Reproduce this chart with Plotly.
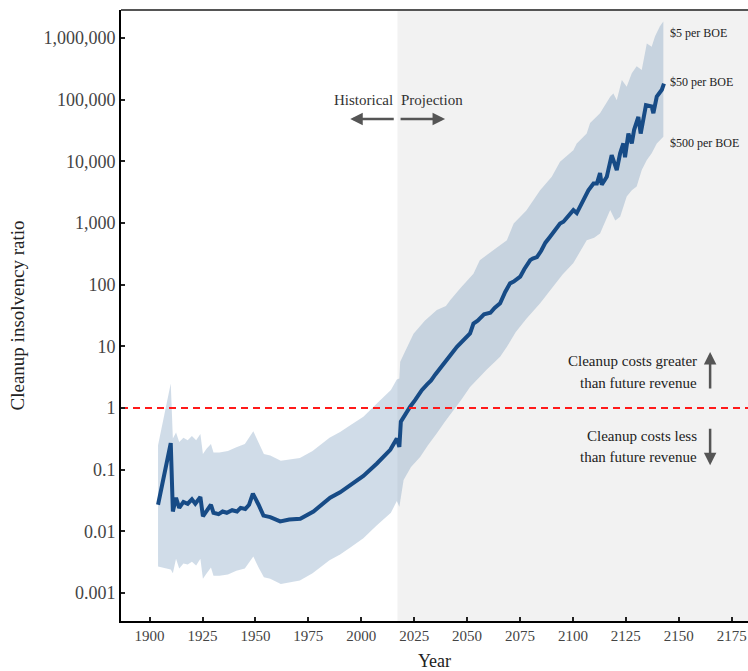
import plotly.graph_objects as go

# ---------------- data ----------------
hist_years = [1904, 1910, 1911, 1912.5, 1914, 1916, 1918, 1920, 1921.6, 1924, 1925.2, 1927, 1929,
              1930.2, 1932.6, 1934.5, 1936.5, 1939, 1941.3, 1943, 1945.2, 1947, 1948.8, 1951.5,
              1953.8, 1957, 1961.7, 1966, 1971.2, 1977.4, 1981, 1985.3, 1990, 1994.8, 2001,
              2007.4, 2013.7, 2016.8, 2018.0]
hist_ratio = [0.027, 0.27, 0.021, 0.035, 0.024, 0.030, 0.028, 0.033, 0.028, 0.036, 0.0175, 0.022, 0.027,
              0.020, 0.019, 0.021, 0.020, 0.022, 0.021, 0.024, 0.023, 0.027, 0.041, 0.027,
              0.018, 0.017, 0.0145, 0.0155, 0.016, 0.021, 0.026, 0.035, 0.043, 0.056, 0.079,
              0.126, 0.21, 0.32, 0.234]

proj_years = [2018.7, 2020, 2023.1, 2025.5, 2028.6, 2031, 2033, 2035, 2037.3, 2040, 2042, 2045.2,
              2047, 2049, 2051.4, 2053, 2055, 2058, 2061, 2063, 2065.6, 2068, 2070.3, 2072,
              2075.1, 2077, 2079.8, 2081, 2083, 2085, 2087, 2089.2, 2091, 2093.9, 2095.5, 2097,
              2100.2, 2101.8, 2104.9, 2107.3, 2109.7, 2111.3, 2112.8, 2113.6, 2116, 2118.3,
              2120.7, 2122.3, 2123.8, 2124.6, 2126.2, 2127.8, 2128.9, 2130.9, 2132, 2134.5,
              2137.2, 2138, 2139.6, 2142, 2143]
proj_ratio = [0.60, 0.72, 1.05, 1.35, 1.95, 2.4, 2.8, 3.5, 4.4, 5.5, 7.1, 9.8,
              11.2, 13.2, 16.2, 23.4, 26, 33, 35, 42, 50, 76, 105, 112,
              135, 178, 250, 265, 280, 355, 480, 600, 710, 980, 1050, 1200,
              1620, 1450, 2340, 3390, 4370, 4370, 6460, 4170, 5620, 12600,
              7240, 13500, 19500, 11700, 28200, 19500, 32400, 52500, 28200, 81300,
              77600, 60300, 112000, 145000, 182000]

upper_years = [1904, 1910, 1911, 1912.5, 1914, 1916, 1918, 1920, 1922, 1924, 1925.2, 1927, 1929,
               1930.2, 1933, 1937, 1941, 1945, 1949, 1951.5, 1954, 1957, 1962, 1971, 1977,
               1985, 1990, 1995, 2001, 2007, 2014, 2016.8, 2018.0, 2018.4, 2021, 2024.7, 2030,
               2035.7, 2040, 2042, 2047, 2053, 2056, 2062, 2068.8, 2072, 2078, 2084.5, 2090,
               2093.9, 2100.2, 2101.8, 2106.5, 2108.1, 2112.8, 2117.6, 2119.1, 2120.7, 2123.1,
               2125.4, 2127.8, 2130.1, 2132.5, 2134.9, 2137.2, 2138.8, 2141.1, 2142.7]
upper_ratio = [0.25, 2.5, 0.32, 0.40, 0.28, 0.33, 0.30, 0.35, 0.30, 0.38, 0.18, 0.22, 0.26,
               0.19, 0.19, 0.20, 0.23, 0.26, 0.42, 0.27, 0.18, 0.17, 0.14, 0.155, 0.20,
               0.33, 0.41, 0.53, 0.72, 1.15, 1.95, 2.9, 3.0, 5.6, 8.5, 16, 26,
               39, 45, 56, 89, 150, 250, 355, 525, 980, 1600, 3400, 5600,
               9800, 15100, 19500, 28200, 41700, 60300, 112000, 126000, 98000, 209000,
               162000, 269000, 347000, 302000, 813000, 724000, 1070000, 1550000, 1860000]

lower_years = [1904, 1910, 1911, 1912.5, 1914, 1916, 1918, 1920, 1922, 1924, 1925.2, 1927, 1929,
               1930.2, 1933, 1937, 1941, 1945, 1949, 1951.5, 1954, 1957, 1962, 1971, 1977,
               1985, 1990, 1995, 2001, 2007, 2014, 2016.8, 2018.0, 2018.4, 2020, 2023.5,
               2027.8, 2031.5, 2035.7, 2039.5, 2043.5, 2047.5, 2051.4, 2055, 2059.3, 2065.6,
               2068.8, 2073, 2078, 2084.5, 2090, 2095, 2100.2, 2104, 2106.5, 2110, 2112.8,
               2117.6, 2120, 2122.3, 2125.4, 2127.8, 2130.1, 2132.5, 2134.9, 2137.2, 2139.6, 2142.7]
lower_ratio = [0.0027, 0.0024, 0.0021, 0.0036, 0.0025, 0.0030, 0.0029, 0.0032, 0.0028, 0.0036, 0.0017,
               0.0021, 0.0026, 0.0019, 0.0019, 0.0020, 0.0023, 0.0025, 0.0039, 0.0026, 0.0018,
               0.0017, 0.0014, 0.0016, 0.0021, 0.0034, 0.0042, 0.0055, 0.0077, 0.0122, 0.020,
               0.031, 0.025, 0.028, 0.068, 0.11, 0.16, 0.25, 0.39, 0.60, 0.93, 1.4, 2.2, 3.0,
               4.2, 6.8, 9.8, 17, 28, 50, 89, 145, 224, 380, 525, 575, 676, 1620, 1100, 1260,
               2690, 3390, 3890, 7240, 10500, 13500, 19500, 25100]

y_tickvals = [0.001, 0.01, 0.1, 1, 10, 100, 1000, 10000, 100000, 1000000]
y_ticktext = ["0.001", "0.01", "0.1", "1", "10", "100", "1,000", "10,000", "100,000", "1,000,000"]
x_tickvals = [1900, 1925, 1950, 1975, 2000, 2025, 2050, 2075, 2100, 2125, 2150, 2175]

projection_start = 2017.1
x_range = [1886.5, 2182.7]

FONT = "Liberation Serif, Times New Roman, serif"
LINE_BLUE = "#174b86"
BAND = "rgba(100,140,180,0.30)"
ARROW = "#555555"

fig = go.Figure()

# uncertainty band as one polygon
band_x = upper_years + lower_years[::-1]
band_y = upper_ratio + lower_ratio[::-1]
fig.add_trace(go.Scatter(x=band_x, y=band_y, fill="toself", fillcolor=BAND,
                         line=dict(width=0), mode="lines", hoverinfo="skip", showlegend=False))

# central estimate
fig.add_trace(go.Scatter(x=hist_years + proj_years, y=hist_ratio + proj_ratio, mode="lines",
                         line=dict(color=LINE_BLUE, width=4), showlegend=False))

# break-even line
fig.add_trace(go.Scatter(x=x_range, y=[1, 1], mode="lines",
                         line=dict(color="#ff1a1a", width=2, dash="7px,5px"), showlegend=False))

fig.update_layout(
    width=748, height=671,
    margin=dict(l=121, r=0, t=10, b=50, autoexpand=False),
    paper_bgcolor="white", plot_bgcolor="white",
    font=dict(family=FONT, color="#222222"),
    showlegend=False,
    shapes=[
        dict(type="rect", xref="x", yref="paper", x0=projection_start, x1=x_range[1], y0=0, y1=1,
             fillcolor="#f2f2f2", line=dict(width=0), layer="below"),
        dict(type="line", xref="paper", yref="paper", x0=0, x1=1, y0=1, y1=1,
             line=dict(color="#555555", width=2)),
    ],
)

fig.update_xaxes(
    range=x_range, tickvals=x_tickvals, showgrid=False, zeroline=False, automargin=False,
    showline=True, linecolor="black", linewidth=2,
    ticks="inside", ticklen=4, tickwidth=1.5, tickcolor="#222222",
    tickfont=dict(family=FONT, size=15, color="#444444"),
    title=dict(text="Year", font=dict(family=FONT, size=18, color="#222222"), standoff=13),
)
fig.update_yaxes(
    type="log", range=[-3.454, 6.454], tickvals=y_tickvals, ticktext=y_ticktext,
    showgrid=False, zeroline=False, showline=True, linecolor="black", linewidth=2, automargin=False,
    ticks="inside", ticklen=4, tickwidth=1.5, tickcolor="#222222",
    tickfont=dict(family=FONT, size=18, color="#444444"),
    title=dict(text="Cleanup insolvency ratio", font=dict(family=FONT, size=19, color="#222222"),
               standoff=14),
)

ann = []
# Historical / Projection labels and arrows
ann.append(dict(x=2000.9, y=4.99, xref="x", yref="y", text="Historical", showarrow=False,
                font=dict(family=FONT, size=15, color="#333333")))
ann.append(dict(x=2033.3, y=4.99, xref="x", yref="y", text="Projection", showarrow=False,
                font=dict(family=FONT, size=15, color="#333333")))
ann.append(dict(x=1994.8, y=4.686, xref="x", yref="y", text="", showarrow=True, ax=45, ay=0,
                arrowhead=2, arrowsize=1, arrowwidth=2.5, arrowcolor=ARROW))
ann.append(dict(x=2039.6, y=4.686, xref="x", yref="y", text="", showarrow=True, ax=-46, ay=0,
                arrowhead=2, arrowsize=1, arrowwidth=2.5, arrowcolor=ARROW))

# price labels
for txt, yv in [("$5 per BOE", 6.08), ("$50 per BOE", 5.286), ("$500 per BOE", 4.297)]:
    ann.append(dict(x=2144.9, y=yv, xref="x", yref="y", text=txt, showarrow=False, xanchor="left",
                    font=dict(family=FONT, size=12, color="#222222")))

# cost vs revenue notes
for txt, yv in [("Cleanup costs greater", 0.762), ("than future revenue", 0.41),
                ("Cleanup costs less", -0.46), ("than future revenue", -0.80)]:
    ann.append(dict(x=2159.6, y=yv, xref="x", yref="y", text=txt, showarrow=False, xanchor="right",
                    font=dict(family=FONT, size=15, color="#222222")))
ann.append(dict(x=2164.8, y=0.91, xref="x", yref="y", text="", showarrow=True, ax=0, ay=38,
                arrowhead=2, arrowsize=1, arrowwidth=2.5, arrowcolor=ARROW))
ann.append(dict(x=2164.8, y=-0.93, xref="x", yref="y", text="", showarrow=True, ax=0, ay=-38,
                arrowhead=2, arrowsize=1, arrowwidth=2.5, arrowcolor=ARROW))

fig.update_layout(annotations=ann)

fig.write_html(
    "out.html",
    config={"displayModeBar": False},
    post_script="document.body.style.margin='0';document.body.style.overflow='hidden';",
)
